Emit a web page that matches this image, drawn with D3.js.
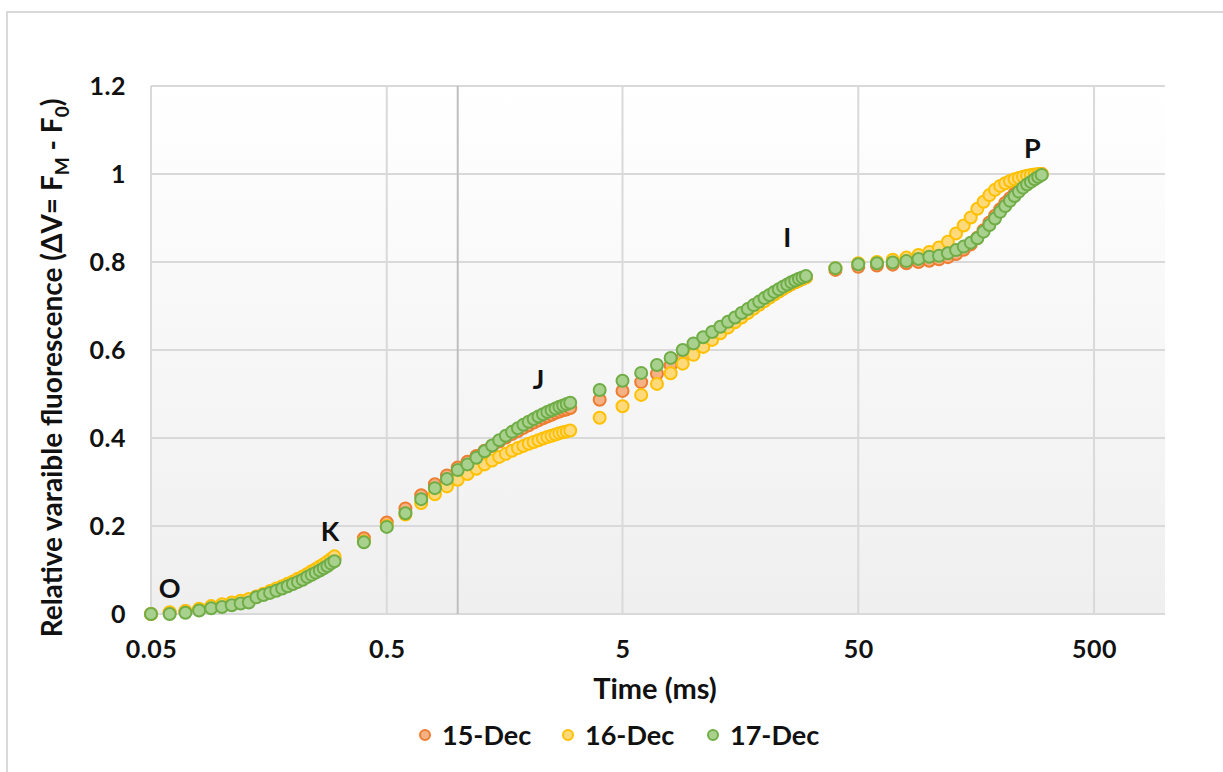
<!DOCTYPE html>
<html lang="en">
<head>
    <meta charset="UTF-8">
    <title>OJIP relative variable fluorescence</title>
    <script src="https://d3js.org/d3.v7.min.js"></script>
    <style>
        body { margin: 0; background: #fff; }
        text { font-family: Lato, "Open Sans", sans-serif; fill: #111; }
    </style>
</head>
<body>
    <svg id="chart" width="1223" height="772"></svg>

    <script>
        // measurement times (ms)
        const times = [
            0.05, 0.06, 0.07, 0.08, 0.09, 0.10, 0.11, 0.12, 0.13, 0.14, 0.15, 0.16, 0.17,
            0.18, 0.19, 0.20, 0.21, 0.22, 0.23, 0.24, 0.25, 0.26, 0.27, 0.28, 0.29, 0.30,
            0.4, 0.5, 0.6, 0.7, 0.8, 0.9, 1.0, 1.1, 1.2, 1.3, 1.4, 1.5, 1.6, 1.7,
            1.8, 1.9, 2.0, 2.1, 2.2, 2.3, 2.4, 2.5, 2.6, 2.7, 2.8, 2.9, 3.0,
            4, 5, 6, 7, 8, 9, 10, 11, 12, 13, 14, 15, 16, 17,
            18, 19, 20, 21, 22, 23, 24, 25, 26, 27, 28, 29, 30,
            40, 50, 60, 70, 80, 90, 100, 110, 120, 130, 140, 150, 160, 170,
            180, 190, 200, 210, 220, 230, 240, 250, 260, 270, 280, 290, 300
        ];

        const dec15 = [
            0, 0.003, 0.006, 0.010, 0.016, 0.020, 0.024, 0.028, 0.032, 0.039, 0.045, 0.050, 0.056,
            0.061, 0.066, 0.071, 0.077, 0.082, 0.087, 0.093, 0.098, 0.104, 0.109, 0.114, 0.120, 0.126,
            0.172, 0.208, 0.240, 0.270, 0.295, 0.315, 0.333, 0.346, 0.359, 0.371, 0.382, 0.392, 0.401, 0.409,
            0.416, 0.423, 0.429, 0.435, 0.440, 0.445, 0.449, 0.453, 0.457, 0.460, 0.463, 0.465, 0.468,
            0.487, 0.507, 0.527, 0.546, 0.565, 0.583, 0.600, 0.615, 0.629, 0.642, 0.654, 0.665, 0.676, 0.686,
            0.695, 0.704, 0.712, 0.720, 0.727, 0.733, 0.739, 0.745, 0.750, 0.754, 0.758, 0.762, 0.765,
            0.782, 0.789, 0.792, 0.794, 0.797, 0.800, 0.803, 0.806, 0.811, 0.818, 0.828, 0.840, 0.855, 0.872,
            0.890, 0.905, 0.920, 0.934, 0.945, 0.955, 0.964, 0.972, 0.979, 0.985, 0.990, 0.995, 1.0
        ];

        const dec16 = [
            0, 0.004, 0.007, 0.012, 0.018, 0.022, 0.026, 0.030, 0.034, 0.040, 0.046, 0.052, 0.058,
            0.063, 0.069, 0.074, 0.080, 0.085, 0.091, 0.097, 0.102, 0.108, 0.113, 0.119, 0.125, 0.131,
            0.165, 0.200, 0.226, 0.252, 0.272, 0.290, 0.305, 0.318, 0.330, 0.340, 0.349, 0.357, 0.364, 0.371,
            0.377, 0.382, 0.387, 0.391, 0.395, 0.399, 0.402, 0.405, 0.408, 0.411, 0.413, 0.415, 0.417,
            0.446, 0.472, 0.498, 0.523, 0.547, 0.569, 0.589, 0.607, 0.623, 0.638, 0.651, 0.663, 0.674, 0.684,
            0.694, 0.703, 0.711, 0.719, 0.726, 0.733, 0.739, 0.745, 0.750, 0.754, 0.758, 0.762, 0.765,
            0.786, 0.797, 0.800, 0.805, 0.810, 0.816, 0.823, 0.833, 0.846, 0.865, 0.883, 0.901, 0.921, 0.937,
            0.952, 0.964, 0.973, 0.979, 0.984, 0.988, 0.991, 0.994, 0.996, 0.998, 0.999, 1.0, 1.0
        ];

        const dec17 = [
            0, 0, 0.003, 0.008, 0.013, 0.016, 0.020, 0.024, 0.026, 0.038, 0.043, 0.048, 0.053,
            0.058, 0.063, 0.068, 0.073, 0.078, 0.084, 0.089, 0.094, 0.099, 0.104, 0.109, 0.115, 0.120,
            0.163, 0.198, 0.229, 0.261, 0.286, 0.307, 0.327, 0.340, 0.355, 0.370, 0.383, 0.395, 0.405, 0.414,
            0.422, 0.430, 0.437, 0.443, 0.449, 0.454, 0.459, 0.463, 0.467, 0.471, 0.474, 0.477, 0.480,
            0.509, 0.530, 0.548, 0.566, 0.582, 0.600, 0.615, 0.629, 0.641, 0.653, 0.664, 0.674, 0.684, 0.693,
            0.702, 0.710, 0.718, 0.725, 0.732, 0.738, 0.744, 0.749, 0.754, 0.758, 0.762, 0.765, 0.768,
            0.786, 0.795, 0.797, 0.799, 0.802, 0.807, 0.812, 0.814, 0.820, 0.827, 0.835, 0.844, 0.854, 0.869,
            0.884, 0.899, 0.914, 0.927, 0.939, 0.950, 0.960, 0.969, 0.976, 0.982, 0.988, 0.993, 0.998
        ];

        const seriesNames = ["15-Dec", "16-Dec", "17-Dec"];
        const xTicks = [0.05, 0.5, 5, 50, 500];
        const yTicks = [0, 0.2, 0.4, 0.6, 0.8, 1, 1.2];

        // phase labels placed in data units
        const phaseLabels = [
            { name: "O", t: 0.06, v: 0.06 },
            { name: "K", t: 0.287, v: 0.19 },
            { name: "J", t: 2.2, v: 0.536 },
            { name: "I", t: 25, v: 0.857 },
            { name: "P", t: 274, v: 1.061 }
        ];

        const colors = [
            { fill: "#f4b183", stroke: "#ed7d31" },
            { fill: "#ffd97a", stroke: "#ffc000" },
            { fill: "#a9d18e", stroke: "#70ad47" }
        ];

        const svg = d3.select("#chart");
        const margin = { top: 86, right: 58, bottom: 158, left: 151 };
        const width = 1223, height = 772;
        const plotW = width - margin.left - margin.right;
        const plotH = height - margin.top - margin.bottom;

        // outer chart border
        svg.append("rect")
            .attr("x", 7).attr("y", 12)
            .attr("width", 1300).attr("height", 900)
            .attr("fill", "none")
            .attr("stroke", "#d9d9d9")
            .attr("stroke-width", 2);

        const defs = svg.append("defs");
        const grad = defs.append("linearGradient")
            .attr("id", "plotBg").attr("x1", 0).attr("y1", 0).attr("x2", 0).attr("y2", 1);
        grad.append("stop").attr("offset", "0%").attr("stop-color", "#ffffff");
        grad.append("stop").attr("offset", "100%").attr("stop-color", "#efefef");

        const x = d3.scaleLog().domain([0.05, 1000]).range([0, plotW]);
        const y = d3.scaleLinear().domain([0, 1.2]).range([plotH, 0]);

        const g = svg.append("g").attr("transform", `translate(${margin.left},${margin.top})`);

        g.append("rect")
            .attr("width", plotW).attr("height", plotH)
            .attr("fill", "url(#plotBg)");

        // gridlines
        g.selectAll(".hgrid").data(yTicks).enter().append("line")
            .attr("x1", 0).attr("x2", plotW)
            .attr("y1", d => y(d)).attr("y2", d => y(d))
            .attr("stroke", "#d9d9d9").attr("stroke-width", 2);

        g.selectAll(".vgrid").data(xTicks).enter().append("line")
            .attr("x1", d => x(d)).attr("x2", d => x(d))
            .attr("y1", 0).attr("y2", plotH)
            .attr("stroke", "#d9d9d9").attr("stroke-width", 2);

        // darker line at 1 ms
        g.append("line")
            .attr("x1", x(1)).attr("x2", x(1))
            .attr("y1", 0).attr("y2", plotH)
            .attr("stroke", "#bfbfbf").attr("stroke-width", 2);

        // axes (labels only, Excel style)
        const xAxis = g.append("g")
            .attr("transform", `translate(0,${plotH})`)
            .call(d3.axisBottom(x).tickValues(xTicks).tickFormat(d => d).tickSize(0).tickPadding(26));
        const yAxis = g.append("g")
            .call(d3.axisLeft(y).tickValues(yTicks).tickFormat(d => d).tickSize(0).tickPadding(25));
        [xAxis, yAxis].forEach(a => {
            a.select(".domain").remove();
            a.selectAll("text")
                .attr("font-size", 25).attr("font-weight", 700)
                .attr("letter-spacing", 0.5)
                .attr("font-family", "Lato, sans-serif").attr("fill", "#111");
        });

        // series
        const allSeries = [dec15, dec16, dec17];
        allSeries.forEach((vals, i) => {
            const pts = times.map((t, k) => ({ t: t, v: vals[k] }));
            g.append("g").selectAll("circle").data(pts).enter().append("circle")
                .attr("cx", d => x(d.t))
                .attr("cy", d => y(d.v))
                .attr("r", 6)
                .attr("fill", colors[i].fill)
                .attr("stroke", colors[i].stroke)
                .attr("stroke-width", 2);
        });

        // phase labels
        g.selectAll(".phase").data(phaseLabels).enter().append("text")
            .attr("x", d => x(d.t))
            .attr("y", d => y(d.v))
            .attr("text-anchor", "middle")
            .attr("dominant-baseline", "central")
            .attr("font-size", 27).attr("font-weight", 700)
            .text(d => d.name);

        // axis titles
        svg.append("text")
            .attr("x", 655).attr("y", 699)
            .attr("text-anchor", "middle")
            .attr("font-size", 29).attr("font-weight", 700)
            .text("Time (ms)");

        const yt = svg.append("text")
            .attr("transform", "translate(62,368) rotate(-90)")
            .attr("text-anchor", "middle")
            .attr("font-size", 28).attr("font-weight", 700);
        yt.append("tspan").text("Relative varaible fluorescence (ΔV= F");
        yt.append("tspan").attr("font-size", 19).attr("dy", 7).text("M");
        yt.append("tspan").attr("dy", -7).text(" - F");
        yt.append("tspan").attr("font-size", 19).attr("dy", 7).text("0");
        yt.append("tspan").attr("dy", -7).text(")");

        // legend
        const legendX = [425, 568, 713];
        const legend = svg.append("g");
        seriesNames.forEach((name, i) => {
            legend.append("circle")
                .attr("cx", legendX[i]).attr("cy", 735).attr("r", 5)
                .attr("fill", colors[i].fill)
                .attr("stroke", colors[i].stroke).attr("stroke-width", 2);
            legend.append("text")
                .attr("x", legendX[i] + 17).attr("y", 745)
                .attr("font-size", 27).attr("font-weight", 700)
                .text(name);
        });
    </script>
</body>
</html>
